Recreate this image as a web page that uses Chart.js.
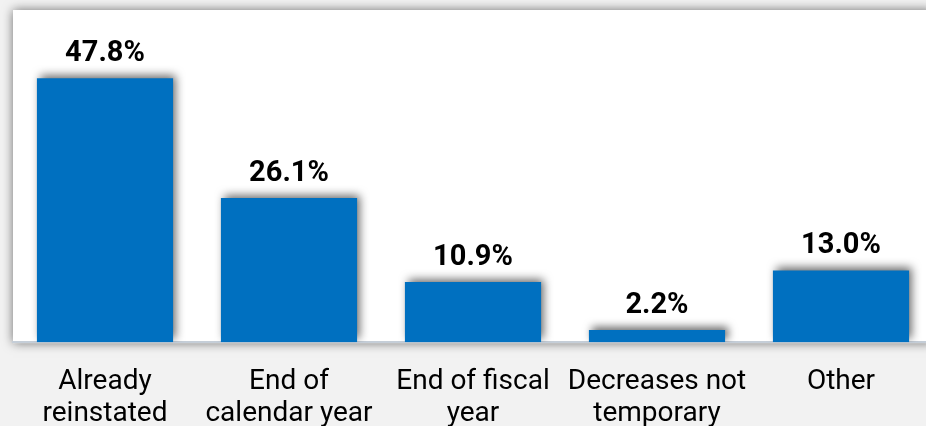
<!DOCTYPE html>
<html>
<head>
<meta charset="utf-8">
<script src="https://cdn.jsdelivr.net/npm/chart.js@4.4.1/dist/chart.umd.min.js"></script>
<style>
    html, body { margin: 0; padding: 0; background: #f2f2f2; overflow: hidden; }
    #wrap { width: 933px; height: 426px; position: relative; }
</style>
</head>
<body>
<div id="wrap"><canvas id="chart"></canvas></div>
<script>
// categories and values
const categories = [
    ['Already', 'reinstated'],
    ['End of', 'calendar year'],
    ['End of fiscal', 'year'],
    ['Decreases not', 'temporary'],
    ['Other']
];
const shares = [47.8, 26.1, 10.9, 2.2, 13.0];

const barColor = '#0070c0';

// white plot box with a soft drop shadow on the gray page
const plotBox = {
    id: 'plotBox',
    beforeDraw(chart) {
        const { ctx, chartArea } = chart;
        ctx.save();
        ctx.fillStyle = '#f2f2f2';
        ctx.fillRect(0, 0, chart.width, chart.height);
        ctx.shadowColor = 'rgba(0, 0, 0, 0.55)';
        ctx.shadowBlur = 10;
        ctx.shadowOffsetX = 0;
        ctx.shadowOffsetY = 0;
        ctx.fillStyle = '#ffffff';
        ctx.fillRect(chartArea.left, chartArea.top - 1, chartArea.right - chartArea.left, chartArea.bottom - chartArea.top + 2);
        ctx.restore();
    }
};

// bar shadow
const barShadow = {
    id: 'barShadow',
    beforeDatasetsDraw(chart) {
        const ctx = chart.ctx;
        ctx.save();
        ctx.shadowColor = 'rgba(0, 0, 0, 0.6)';
        ctx.shadowBlur = 9;
        ctx.shadowOffsetX = 3;
        ctx.shadowOffsetY = -3;
    },
    afterDatasetsDraw(chart) {
        chart.ctx.restore();
    }
};

// percent labels above the bars
const valueLabels = {
    id: 'valueLabels',
    afterDatasetsDraw(chart) {
        const ctx = chart.ctx;
        const meta = chart.getDatasetMeta(0);
        ctx.save();
        ctx.fillStyle = '#000000';
        ctx.font = 'bold 29px Roboto';
        ctx.textAlign = 'center';
        ctx.textBaseline = 'alphabetic';
        meta.data.forEach((bar, i) => {
            ctx.fillText(shares[i].toFixed(1) + '%', bar.x, bar.y - 17);
        });
        ctx.restore();
    }
};

new Chart(document.getElementById('chart'), {
    type: 'bar',
    data: {
        labels: categories,
        datasets: [{
            data: shares,
            backgroundColor: barColor,
            borderWidth: 0,
            categoryPercentage: 1,
            barPercentage: 0.74
        }]
    },
    options: {
        responsive: true,
        maintainAspectRatio: false,
        animation: false,
        layout: {
            padding: { top: 11, left: 13, right: 0, bottom: -28 }
        },
        plugins: {
            legend: { display: false },
            tooltip: { enabled: false }
        },
        scales: {
            y: {
                display: false,
                min: 0,
                max: 60
            },
            x: {
                grid: { display: false, drawTicks: false },
                border: { display: true, color: '#c5ced8', width: 2 },
                ticks: {
                    color: '#000000',
                    padding: 24,
                    maxRotation: 0,
                    autoSkip: false,
                    font: { family: 'Roboto', size: 28, lineHeight: 1.14 }
                }
            }
        }
    },
    plugins: [plotBox, barShadow, valueLabels]
});
</script>
</body>
</html>
